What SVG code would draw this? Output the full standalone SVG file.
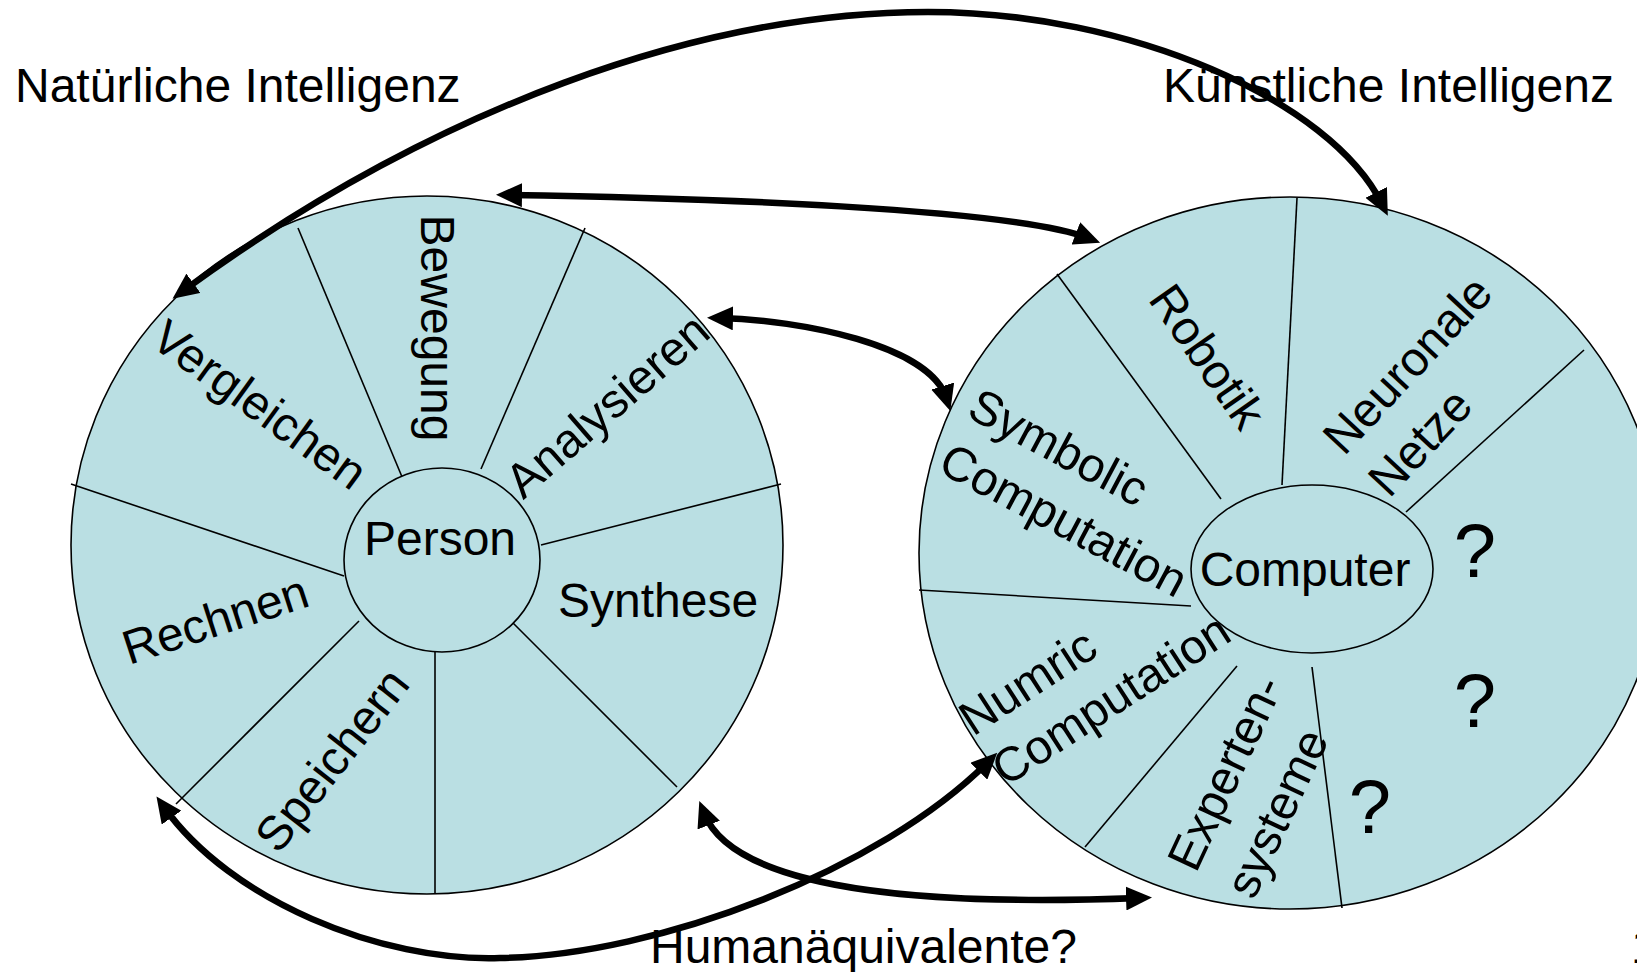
<svg xmlns="http://www.w3.org/2000/svg" width="1637" height="972" viewBox="0 0 1637 972">
<style>
.disk{fill:#BADFE3;stroke:#000;stroke-width:1.6}
.div{stroke:#000;stroke-width:1.6;fill:none}
.t{font-family:"Liberation Sans",Arial,sans-serif;font-size:48px;fill:#000}
.q{font-family:"Liberation Sans",Arial,sans-serif;font-size:76px;fill:#000;text-anchor:middle}
.m{text-anchor:middle}
.arr{fill:none;stroke:#000;stroke-width:6.5;marker-start:url(#ah);marker-end:url(#ah)}
</style>
<defs>
<marker id="ah" viewBox="0 0 26 24" refX="13" refY="12" markerWidth="26" markerHeight="24" markerUnits="userSpaceOnUse" orient="auto-start-reverse"><path d="M0,0 L26,12 L0,24 z" fill="#000"/></marker>
</defs>
<rect width="1637" height="972" fill="#fff"/>

<g id="natural">
<ellipse class="disk" cx="427" cy="545" rx="356" ry="349"/>
<line class="div" x1="298" y1="228" x2="405" y2="484"/>
<line class="div" x1="585" y1="228" x2="481" y2="469"/>
<line class="div" x1="781" y1="484" x2="541" y2="545"/>
<line class="div" x1="677" y1="787" x2="512" y2="622"/>
<line class="div" x1="435" y1="652" x2="435" y2="893"/>
<line class="div" x1="359" y1="621" x2="176" y2="804"/>
<line class="div" x1="71" y1="484" x2="344" y2="576"/>
</g>
<g id="person">
<ellipse class="disk" cx="442" cy="560" rx="98" ry="92"/>
<text class="t m" x="440" y="555">Person</text>
</g>
<g id="natural-labels">
<text class="t m" transform="translate(421,328) rotate(90)">Bewegung</text>
<text class="t m" transform="translate(250,418) rotate(36)">Vergleichen</text>
<text class="t m" transform="translate(618,418) rotate(-41)">Analysieren</text>
<text class="t" x="558" y="617">Synthese</text>
<text class="t" transform="translate(129,665) rotate(-18)">Rechnen</text>
<text class="t m" transform="translate(345,770) rotate(-52)">Speichern</text>
</g>

<g id="artificial">
<ellipse class="disk" cx="1290" cy="553" rx="371" ry="356"/>
<line class="div" x1="1057" y1="274" x2="1221" y2="499"/>
<line class="div" x1="1297" y1="198" x2="1282" y2="485"/>
<line class="div" x1="1584" y1="350" x2="1406" y2="512"/>
<line class="div" x1="919" y1="590" x2="1191" y2="606"/>
<line class="div" x1="1237" y1="666" x2="1085" y2="847"/>
<line class="div" x1="1312" y1="667" x2="1342" y2="908"/>
</g>
<g id="computer">
<ellipse class="disk" cx="1312" cy="569" rx="121" ry="84"/>
<text class="t m" x="1305" y="586">Computer</text>
</g>
<g id="artificial-labels">
<text class="t m" transform="translate(1194,366) rotate(55)">Robotik</text>
<g transform="translate(1344,457) rotate(-47)"><text class="t" x="0" y="0">Neuronale</text><text class="t" x="0" y="62">Netze</text></g>
<g transform="translate(965,416) rotate(28)"><text class="t" x="0" y="0">Symbolic</text><text class="t" x="0" y="62">Computation</text></g>
<g transform="translate(973,737) rotate(-33)"><text class="t" x="0" y="0">Numric</text><text class="t" x="0" y="60">Computation</text></g>
<g transform="translate(1196,874) rotate(-65)"><text class="t" x="0" y="0">Experten-</text><text class="t" x="0" y="64">systeme</text></g>
<text class="q" x="1475" y="577">?</text>
<text class="q" x="1475" y="727">?</text>
<text class="q" x="1370" y="833">?</text>
</g>

<g id="titles">
<text class="t" x="15" y="102">Natürliche Intelligenz</text>
<text class="t" x="1163" y="102">Künstliche Intelligenz</text>
<text class="t" x="650" y="963">Humanäquivalente?</text>
<text class="t" x="1631" y="963">1</text>
</g>

<g id="connectors">
<path class="arr" d="M183,291 C433,108 700,12 928,12 C1130,12 1330,100 1382,204"/>
<path class="arr" d="M509,195 C700,198 1010,208 1088,238"/>
<path class="arr" d="M720,318 C800,320 930,345 946.5,398.5"/>
<path class="arr" d="M164,807 C230,900 380,962 500,958 C660,955 880,870 988,762"/>
<path class="arr" d="M704,813 C730,880 880,908 1139,898"/>
</g>
</svg>
